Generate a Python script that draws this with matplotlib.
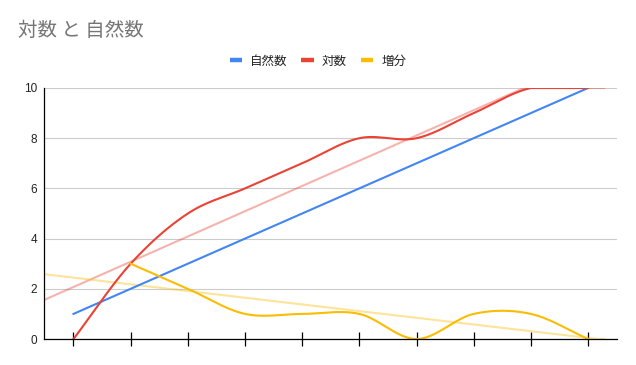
import numpy as np
import matplotlib
matplotlib.use("Agg")
import matplotlib.pyplot as plt
from matplotlib.lines import Line2D

plt.rcParams['font.family'] = ['Noto Sans CJK JP', 'DejaVu Sans']

categories = [1, 2, 3, 4, 5, 6, 7, 8, 9, 10]
natural = [1, 2, 3, 4, 5, 6, 7, 8, 9, 10]
logvals = [0, 3, 5, 6, 7, 8, 8, 9, 10, 10]
incr = [np.nan, 3, 2, 1, 1, 1, 0, 1, 1, 0]
names = ["自然数", "対数", "増分"]
colors = ["#4285F4", "#EA4335", "#FBBC04"]
title = "対数 と 自然数"
yticks = [0, 2, 4, 6, 8, 10]


def smooth(xs, ys, n=40):
    xs = np.asarray(xs, float)
    ys = np.asarray(ys, float)
    m = ~np.isnan(ys)
    xs, ys = xs[m], ys[m]
    k = len(xs)
    tang = np.zeros(k)
    for i in range(k):
        if i == 0:
            tang[i] = ys[1] - ys[0]
        elif i == k - 1:
            tang[i] = ys[-1] - ys[-2]
        else:
            tang[i] = (ys[i + 1] - ys[i - 1]) / 2.0
    ox, oy = [], []
    for i in range(k - 1):
        t = np.linspace(0, 1, n, endpoint=(i == k - 2))
        h00 = 2 * t**3 - 3 * t**2 + 1
        h10 = t**3 - 2 * t**2 + t
        h01 = -2 * t**3 + 3 * t**2
        h11 = t**3 - t**2
        dx = xs[i + 1] - xs[i]
        oy.append(h00 * ys[i] + h10 * dx * tang[i] + h01 * ys[i + 1] + h11 * dx * tang[i + 1])
        ox.append(xs[i] + t * dx)
    return np.concatenate(ox), np.concatenate(oy)


fig = plt.figure(figsize=(6.36, 3.65), dpi=100)
ax = fig.add_axes([44 / 636, 26 / 365, 573 / 636, 251 / 365])
xlim = (0.484, 10.507)
ax.set_xlim(*xlim)
ax.set_ylim(0, 10)

lw = 1.5
for ys, c in [(logvals, colors[1]), (incr, colors[2])]:
    xa = np.asarray(categories, float)
    ya = np.asarray(ys, float)
    m = ~np.isnan(ya)
    p = np.polyfit(xa[m], ya[m], 1)
    tx = np.linspace(xlim[0], 10.3, 200)
    ty = np.clip(np.polyval(p, tx), 0, 10)
    ax.plot(tx, ty, color=c, alpha=0.4, lw=lw, solid_capstyle='butt', zorder=2)

ax.plot(categories, natural, color=colors[0], lw=lw, zorder=3)
sx, sy = smooth(categories, logvals)
ax.plot(sx, np.clip(sy, 0, 10), color=colors[1], lw=lw, zorder=3)
sx, sy = smooth(categories, incr)
ax.plot(sx, np.clip(sy, 0, 10), color=colors[2], lw=lw, zorder=3)

ax.set_yticks(yticks)
ax.set_yticklabels([str(v) for v in yticks], fontsize=8.5, color='#222222',
                   family=['Liberation Sans', 'DejaVu Sans'])
ax.grid(axis='y', color='#cccccc', lw=0.8, zorder=0)
ax.set_axisbelow(True)
ax.set_xticks(categories)
ax.set_xticklabels([])
ax.tick_params(axis='x', direction='inout', length=9.5, width=0.9, color='black')
ax.tick_params(axis='y', length=0, pad=5)
for s in ['top', 'right']:
    ax.spines[s].set_visible(False)
for s in ['left', 'bottom']:
    ax.spines[s].set_color('black')
    ax.spines[s].set_linewidth(0.9)
ax.spines['bottom'].set_zorder(5)

fig.text(18 / 636, 1 - 30 / 365, title, fontsize=14, color='#757575', va='center', ha='left')

handles = [Line2D([0], [0], color=c, lw=3.2, solid_capstyle='butt') for c in colors]
fig.legend(handles, names, loc='center', bbox_to_anchor=(318 / 636, 1 - 61 / 365), ncol=3,
           frameon=False, fontsize=9, handlelength=1.0, handletextpad=0.65,
           columnspacing=1.1, labelcolor='#222222')

fig.savefig('out.png', dpi=100)
